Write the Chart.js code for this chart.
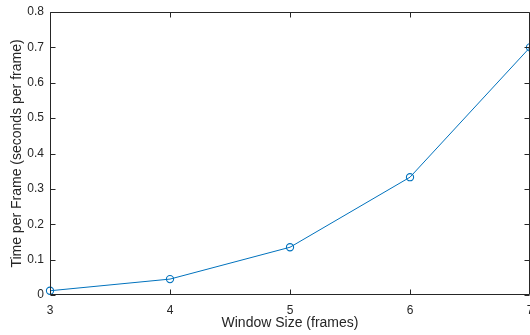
<!DOCTYPE html>
<html>
<head>
<meta charset="utf-8">
<script src="https://cdn.jsdelivr.net/npm/chart.js@4"></script>
<style>
  html, body { margin: 0; padding: 0; background: #fff; }
  canvas { display: block; }
</style>
</head>
<body>
<canvas id="c" width="530" height="335"></canvas>
<script>
const windowSizes = [3, 4, 5, 6, 7];
const timePerFrame = [0.012, 0.045, 0.135, 0.333, 0.700];
const xTickLabels = ['3', '4', '5', '6', '7'];
const yTickLabels = ['0', '0.1', '0.2', '0.3', '0.4', '0.5', '0.6', '0.7', '0.8'];

const axisColor = '#262626';
const lineColor = '#0072BD';
const FONT = '"Liberation Sans", Arial, Helvetica, sans-serif';

const boxPlugin = {
  id: 'matlabBox',
  afterDatasetsDraw(chart) {
    const { ctx, chartArea: a, scales } = chart;
    const L = Math.round(a.left) + 0.5, R = Math.round(a.right) - 0.5;
    const T = Math.round(a.top) + 0.5, B = Math.round(a.bottom) - 0.5;
    ctx.save();
    ctx.strokeStyle = axisColor;
    ctx.lineWidth = 1;
    ctx.beginPath();
    ctx.moveTo(L, B); ctx.lineTo(L, T); ctx.lineTo(R, T); ctx.lineTo(R, B); ctx.lineTo(L, B);
    const tl = 5;
    scales.x.ticks.forEach(t => {
      const x = Math.round(scales.x.getPixelForValue(t.value)) + 0.5;
      ctx.moveTo(x, B); ctx.lineTo(x, B - tl);
      ctx.moveTo(x, T); ctx.lineTo(x, T + tl);
    });
    scales.y.ticks.forEach(t => {
      const y = Math.round(scales.y.getPixelForValue(t.value)) + 0.5;
      ctx.moveTo(L, y); ctx.lineTo(L + tl, y);
      ctx.moveTo(R, y); ctx.lineTo(R - tl, y);
    });
    ctx.stroke();
    ctx.restore();
  }
};

new Chart(document.getElementById('c'), {
  type: 'line',
  data: {
    datasets: [{
      data: windowSizes.map((x, i) => ({ x: x, y: timePerFrame[i] })),
      borderColor: lineColor,
      borderWidth: 1,
      backgroundColor: 'rgba(0,0,0,0)',
      pointStyle: 'circle',
      pointRadius: 3.6,
      pointBorderWidth: 1.1,
      pointBorderColor: lineColor,
      pointBackgroundColor: 'rgba(0,0,0,0)',
      tension: 0,
      clip: false
    }]
  },
  options: {
    responsive: false,
    animation: false,
    events: [],
    layout: { autoPadding: false, padding: { top: 12, right: 0, left: 0, bottom: 0 } },
    plugins: { legend: { display: false }, tooltip: { enabled: false } },
    scales: {
      x: {
        type: 'linear',
        min: 3, max: 7,
        grid: { display: false, drawTicks: false, tickLength: 0 },
        border: { display: false },
        ticks: {
          stepSize: 1,
          padding: 8,
          color: axisColor,
          font: { family: FONT, size: 12 },
          maxRotation: 0,
          autoSkip: false,
          callback: (v, i) => xTickLabels[i]
        },
        title: {
          display: true,
          text: 'Window Size (frames)',
          color: axisColor,
          font: { family: FONT, size: 14 },
          padding: { top: 0, bottom: 3 }
        },
        afterFit(s) { s.height = 40; s.paddingLeft = 0; s.paddingRight = 0; }
      },
      y: {
        min: 0, max: 0.8,
        grid: { display: false, drawTicks: false, tickLength: 0 },
        border: { display: false },
        ticks: {
          stepSize: 0.1,
          padding: 6,
          color: axisColor,
          font: { family: FONT, size: 12 },
          callback: (v, i) => yTickLabels[i]
        },
        title: {
          display: true,
          text: 'Time per Frame (seconds per frame)',
          color: axisColor,
          font: { family: FONT, size: 14 },
          padding: { top: 9, bottom: 0 }
        },
        afterFit(s) { s.width = 50; s.paddingTop = 0; s.paddingBottom = 0; }
      }
    }
  },
  plugins: [boxPlugin]
});
</script>
</body>
</html>
